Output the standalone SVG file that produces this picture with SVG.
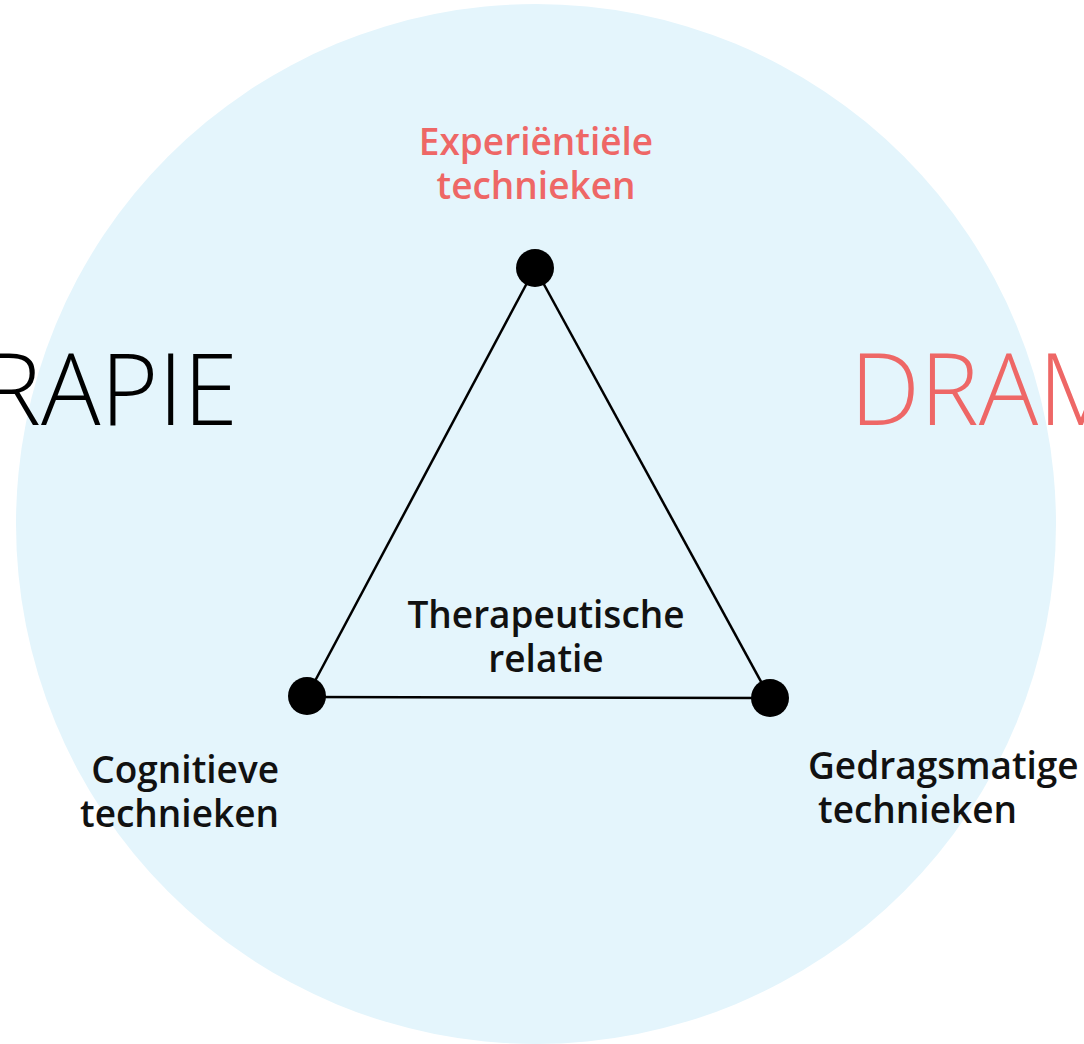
<svg xmlns="http://www.w3.org/2000/svg" width="1084" height="1044" viewBox="0 0 1084 1044">
<style>
.lbl{font-family:"Open Sans","Liberation Sans",sans-serif;font-weight:600;font-size:37px;fill:#111}
.red{fill:#ee6766}
.big{font-family:"Open Sans","Lato","Liberation Sans",sans-serif;font-weight:300;font-size:99px}
.edge{stroke:#000;stroke-width:2.5;fill:none}
.dot{fill:#000}
</style>
<rect width="1084" height="1044" fill="#fff"/>
<circle cx="536" cy="524" r="520" fill="#e4f5fc"/>
<text class="big" x="238" y="425" text-anchor="end" fill="#000">RAPIE</text>
<text class="big red" x="850" y="425">DRAM</text>
<g id="connectors">
<line class="edge" x1="535" y1="268" x2="307" y2="696"/>
<line class="edge" x1="535" y1="268" x2="770" y2="698"/>
<line class="edge" x1="307" y1="697" x2="770" y2="698"/>
</g>
<g id="experientiele">
<circle class="dot" cx="535" cy="268" r="19"/>
<text class="lbl red" x="536" y="155" text-anchor="middle">Experiëntiële</text>
<text class="lbl red" x="536" y="199" text-anchor="middle">technieken</text>
</g>
<g id="cognitieve">
<circle class="dot" cx="307" cy="696" r="19"/>
<text class="lbl" x="279" y="783" text-anchor="end">Cognitieve</text>
<text class="lbl" x="279" y="827" text-anchor="end">technieken</text>
</g>
<g id="gedragsmatige">
<circle class="dot" cx="770" cy="698" r="19"/>
<text class="lbl" x="808" y="779">Gedragsmatige</text>
<text class="lbl" x="818" y="823">technieken</text>
</g>
<g id="relatie">
<text class="lbl" x="546" y="628" text-anchor="middle">Therapeutische</text>
<text class="lbl" x="546" y="672" text-anchor="middle">relatie</text>
</g>
</svg>
